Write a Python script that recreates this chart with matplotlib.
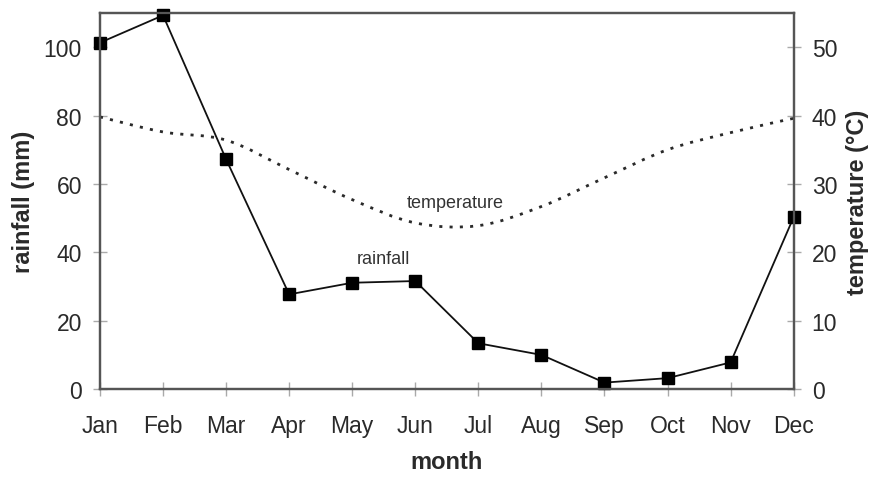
import numpy as np
import matplotlib
matplotlib.use("Agg")
import matplotlib.pyplot as plt
from matplotlib.path import Path
from matplotlib.patches import PathPatch

plt.rcParams["font.family"] = ["Liberation Sans", "DejaVu Sans"]

months = ["Jan", "Feb", "Mar", "Apr", "May", "Jun",
          "Jul", "Aug", "Sep", "Oct", "Nov", "Dec"]
rainfall = [101.3, 109.3, 67.2, 27.7, 31.1, 31.6, 13.4, 10.0, 1.9, 3.2, 7.8, 50.3]
temperature = [39.8, 37.6, 36.4, 32.1, 27.7, 24.3, 23.9, 26.7, 30.9, 35.0, 37.5, 39.6]
rain_ticks = [0, 20, 40, 60, 80, 100]
temp_ticks = [0, 10, 20, 30, 40, 50]


def smooth_path(x, y, tension=1 / 6):
    """Cubic Bezier path through the points (Catmull-Rom style control points)."""
    x = np.asarray(x, float)
    y = np.asarray(y, float)
    xp = np.concatenate([[x[0]], x, [x[-1]]])
    yp = np.concatenate([[y[0]], y, [y[-1]]])
    verts = [(x[0], y[0])]
    codes = [Path.MOVETO]
    for i in range(len(x) - 1):
        c1 = (x[i] + (xp[i + 2] - xp[i]) * tension, y[i] + (yp[i + 2] - yp[i]) * tension)
        c2 = (x[i + 1] - (xp[i + 3] - xp[i + 1]) * tension, y[i + 1] - (yp[i + 3] - yp[i + 1]) * tension)
        verts += [c1, c2, (x[i + 1], y[i + 1])]
        codes += [Path.CURVE4] * 3
    return Path(verts, codes)


fig = plt.figure(figsize=(8.77, 4.81), dpi=100)
ax = fig.add_axes([0.114, 0.189, 0.791, 0.782])
ax2 = ax.twinx()

xs = np.arange(len(months))
ax.plot(xs, rainfall, color="#111111", lw=1.3, marker="s", markersize=8.5,
        markerfacecolor="black", markeredgecolor="black", zorder=3, clip_on=False)

# temperature drawn as a smooth dotted curve on the right axis
patch = PathPatch(smooth_path(xs, temperature), facecolor="none", edgecolor="#2a2a2a",
                  lw=2.0, linestyle=(0, (1.1, 2.6)), capstyle="butt")
ax2.add_patch(patch)

ax.set_xlim(0, 11)
ax.set_ylim(0, 110)
ax2.set_ylim(0, 55)

ax.set_xticks(xs)
ax.set_xticklabels(months)
ax.set_yticks(rain_ticks)
ax2.set_yticks(temp_ticks)

for a in (ax, ax2):
    for s in a.spines.values():
        s.set_color("#555555")
        s.set_linewidth(1.6)
    a.tick_params(direction="inout", length=10, width=1.0, color="#aaaaaa",
                  labelsize=16.5, labelcolor="#2a2a2a", pad=8)
ax.tick_params(axis="x", pad=13)

ax.set_ylabel("rainfall (mm)", fontsize=17, fontweight="bold", color="#2a2a2a", labelpad=6)
ax2.set_ylabel("temperature (°C)", fontsize=17, fontweight="bold", color="#2a2a2a", labelpad=6)
ax.set_xlabel("month", fontsize=17, fontweight="bold", color="#2a2a2a", labelpad=9)

ax2.text(5.63, 27.3, "temperature", fontsize=13, color="#333333", ha="center", va="center")
ax.text(4.5, 38.2, "rainfall", fontsize=13, color="#333333", ha="center", va="center")

fig.savefig("out.png", dpi=100, facecolor="white")
